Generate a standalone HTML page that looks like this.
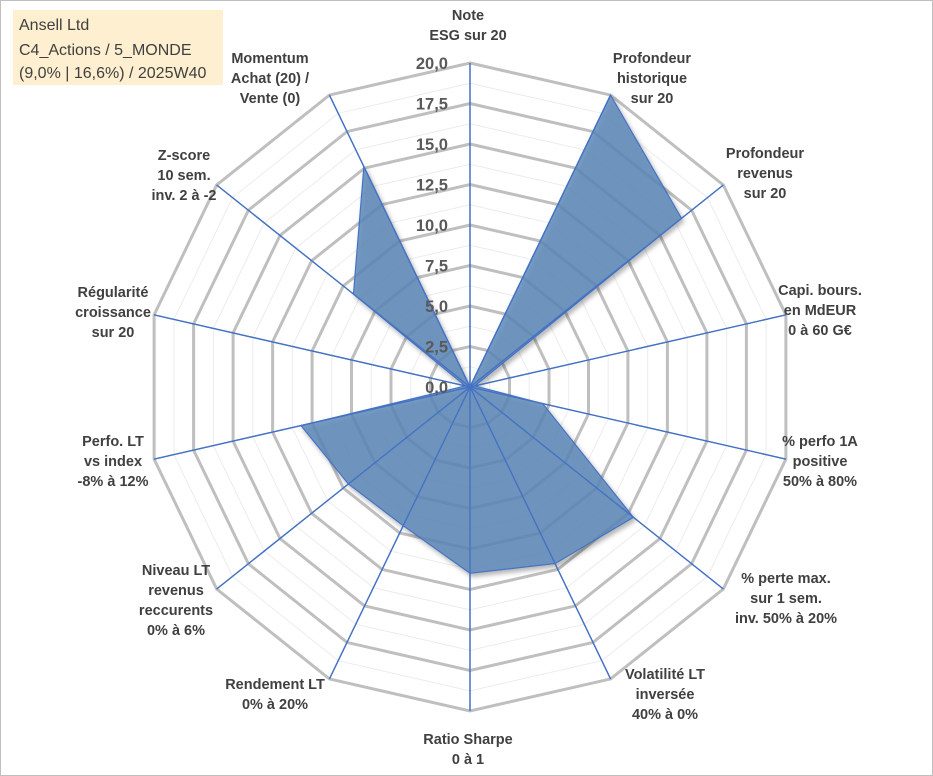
<!DOCTYPE html>
<html><head><meta charset="utf-8"><style>
html,body{margin:0;padding:0;background:#fff;}
svg{display:block;font-family:"Liberation Sans",sans-serif;}
.lbl{font-weight:bold;font-size:14.5px;fill:#404040;text-anchor:middle;}
.tick{font-weight:bold;font-size:16.5px;fill:#595959;text-anchor:end;}
.ttl{font-size:16px;fill:#404040;font-family:"Liberation Sans",sans-serif;}
</style></head><body>
<svg id="chart" width="933" height="776">
<defs><filter id="sh" x="-10%" y="-10%" width="120%" height="120%"><feDropShadow dx="2" dy="3" stdDeviation="2.5" flood-color="#000" flood-opacity="0.35"/></filter></defs>
<rect x="0.5" y="0.5" width="932" height="775" fill="#fff" stroke="#bfbfbf"/>
<g id="grid"></g>
<g id="axes"></g>
<g id="series"></g>
<g id="ticks"></g>
<g id="labels"></g>
<g>
<rect x="13" y="10" width="210" height="75" fill="#fdefcf"/>
<text class="ttl" x="19" y="30">Ansell Ltd</text>
<text class="ttl" x="19" y="55">C4_Actions / 5_MONDE</text>
<text class="ttl" x="19" y="78">(9,0% | 16,6%) / 2025W40</text>
</g>
</svg>
<script>
const categories = [
 ["Note","ESG sur 20"],
 ["Profondeur","historique","sur 20"],
 ["Profondeur","revenus","sur 20"],
 ["Capi. bours.","en MdEUR","0 à 60 G€"],
 ["% perfo 1A","positive","50% à 80%"],
 ["% perte max.","sur 1 sem.","inv. 50% à 20%"],
 ["Volatilité LT","inversée","40% à 0%"],
 ["Ratio Sharpe","0 à 1"],
 ["Rendement LT","0% à 20%"],
 ["Niveau LT","revenus","reccurents","0% à 6%"],
 ["Perfo. LT","vs index","-8% à 12%"],
 ["Régularité","croissance","sur 20"],
 ["Z-score","10 sem.","inv. 2 à -2"],
 ["Momentum","Achat (20) /","Vente (0)"]
];
const values = [0, 20, 16.7, 0.3, 4.6, 12.9, 12.1, 11.5, 9.5, 9.6, 10.7, 0.3, 9.2, 15.1];
const tickLabels = ["0,0","2,5","5,0","7,5","10,0","12,5","15,0","17,5","20,0"];
const maxVal = 20;
const labelPos = [[468,15],[652,58],[765,153],[820,290],[820,441],[786,578],[665,674],[468,739],[275,684],[176,570],[113,441],[113,292],[184,155],[270,58]];

const NS="http://www.w3.org/2000/svg";
const cx=470, cy=387, R=324, N=categories.length;
function ang(i){return i*2*Math.PI/N;}
function px(i,v){return cx+Math.sin(ang(i))*v/maxVal*R;}
function py(i,v){return cy-Math.cos(ang(i))*v/maxVal*R;}
function mk(tag,attrs,parent){const e=document.createElementNS(NS,tag);for(const k in attrs)e.setAttribute(k,attrs[k]);parent.appendChild(e);return e;}
const grid=document.getElementById('grid');
for(let s=1;s<=16;s++){
  const v=s*1.25, pts=[];
  for(let i=0;i<N;i++)pts.push(px(i,v).toFixed(1)+','+py(i,v).toFixed(1));
  const major=s%2===0;
  const p=mk('polygon',{points:pts.join(' '),fill:'none',stroke:major?'#bfbfbf':'#ececec','stroke-width':major?3:1},grid);
  
  
}
const axes=document.getElementById('axes');
for(let i=0;i<N;i++){
  const l=mk('line',{x1:cx,y1:cy,x2:px(i,maxVal),y2:py(i,maxVal),stroke:'#4472c4','stroke-width':1.3},axes);
  
  
}
const series=document.getElementById('series');
const sp=values.map((v,i)=>px(i,v).toFixed(1)+','+py(i,v).toFixed(1)).join(' ');
const poly=mk('polygon',{points:sp,fill:'#5b87b8','fill-opacity':0.82,stroke:'#4472c4','stroke-width':1.2,filter:'url(#sh)'},series);


for(let i=0;i<N;i++){
  const l=mk('line',{x1:cx,y1:cy,x2:px(i,maxVal),y2:py(i,maxVal),stroke:'#4472c4','stroke-width':1.3},series);
  
  
}
const ticks=document.getElementById('ticks');
tickLabels.forEach((t,k)=>{
  const v=k*2.5;
  const e=mk('text',{class:'tick',x:448,y:(cy-v/maxVal*R+6).toFixed(1)},ticks);
  e.textContent=t;
  
  
});
const labels=document.getElementById('labels');
categories.forEach((lines,i)=>{
  const [x,y]=labelPos[i];
  const t=mk('text',{class:'lbl',x:x,y:y+5},labels);
  
  
  lines.forEach((ln,j)=>{const ts=mk('tspan',{x:x,dy:j?20:0},t);ts.textContent=ln;});
});
</script>
</body></html>
